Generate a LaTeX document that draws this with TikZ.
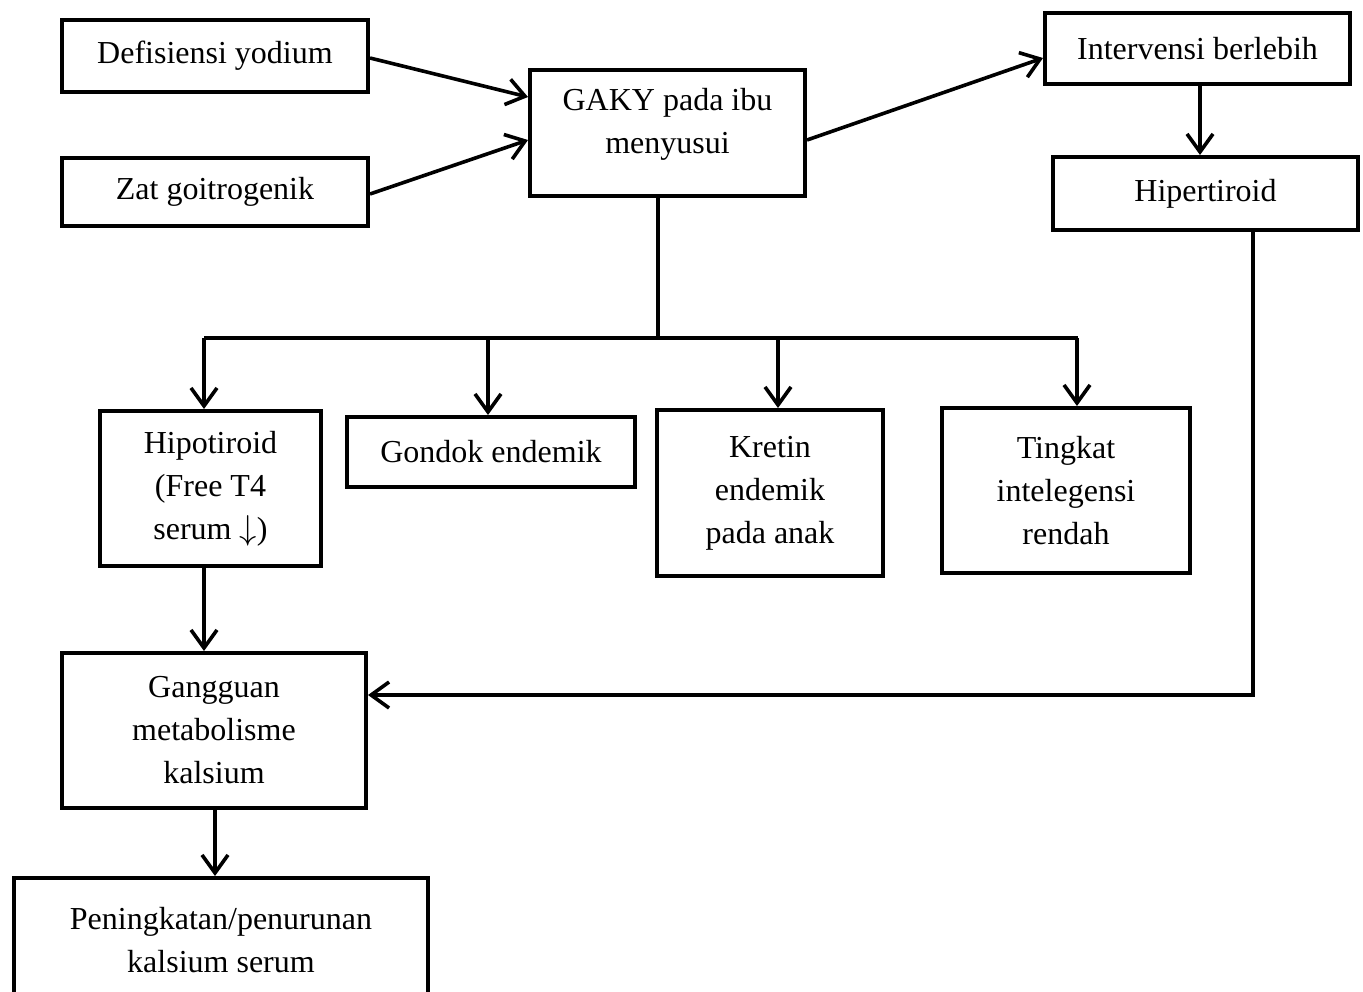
\documentclass[tikz,border=0pt]{standalone}
\usepackage{fontspec}
\setmainfont{Liberation Serif}
\usetikzlibrary{arrows.meta}
\tikzset{
  box/.style 2 args={draw, line width=2pt, minimum width=#1*0.5pt, minimum height=#2*0.5pt,
    inner sep=0pt, align=center, font=\fontsize{16}{21.5}\selectfont},
  conn/.style={line width=1.8pt},
  arr/.style={conn, -{Straight Barb[length=9pt,width=13pt,line width=1.8pt]}}
}
\begin{document}
\begin{tikzpicture}[x=0.5pt,y=-0.5pt]
\clip (0,0) rectangle (1363,991);
\fill[white] (0,0) rectangle (1363,991);
\node[box={306}{72}] (def) at (215,56) {Defisiensi yodium};
\node[box={306}{68}] (zat) at (215,192) {Zat goitrogenik};
\node[box={275}{126}, text depth=12pt] (gaky) at (667.5,133) {GAKY pada ibu\\menyusui};
\node[box={305}{71}] (int) at (1197.5,48.5) {Intervensi berlebih};
\node[box={305}{73}] (hiper) at (1205.5,193.5) {Hipertiroid};
\node[box={221}{155}] (hipo) at (210.5,488.5) {Hipotiroid\\(Free T4\\serum $\downarrow$)};
\node[box={288}{70}] (gondok) at (491,452) {Gondok endemik};
\node[box={226}{166}] (kretin) at (770,493) {Kretin\\endemik\\pada anak};
\node[box={248}{165}] (ting) at (1066,490.5) {Tingkat\\intelegensi\\rendah};
\node[box={304}{155}] (gang) at (214,730.5) {Gangguan\\metabolisme\\kalsium};
\node[box={414}{124}] (pen) at (221,940) {Peningkatan/penurunan\\kalsium serum};
\coordinate (split) at (658,338);
% inputs
\draw[arr] (def.east |- 0,58) -- (gaky.west |- 0,97);
\draw[arr] (zat.east |- 0,194) -- (gaky.west |- 0,140);
\draw[arr] (gaky.east |- 0,140) -- (int.west |- 0,58);
\draw[arr] (1200,84) -- (hiper.north -| 1200,0);
% branch
\draw[conn] (gaky.south -| split) -- (split);
\draw[conn] (204,338) -- (1078,338);
\draw[arr] (204,338) -- (hipo.north -| 204,0);
\draw[arr] (488,338) -- (gondok.north -| 488,0);
\draw[arr] (778,338) -- (kretin.north -| 778,0);
\draw[arr] (1077,338) -- (ting.north -| 1077,0);
% lower chain
\draw[arr] (hipo.south -| 204,0) -- (gang.north -| 204,0);
\draw[arr] (hiper.south -| 1253,0) -- (1253,695) -- (gang.east |- 0,695);
\draw[arr] (gang.south -| 215,0) -- (pen.north -| 215,0);
\end{tikzpicture}
\end{document}
